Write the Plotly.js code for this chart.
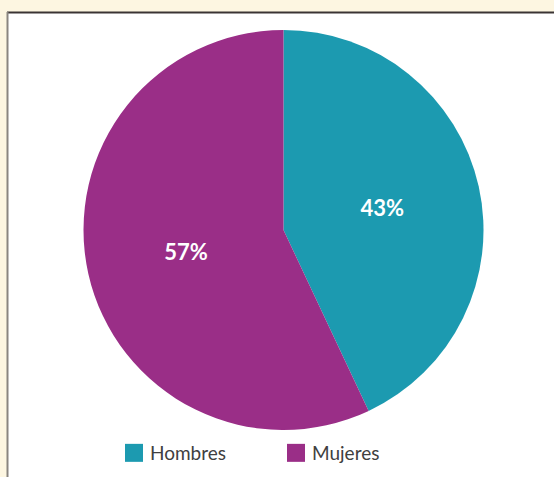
<!DOCTYPE html>
<html>
<head>
<meta charset="utf-8">
<script src="https://cdn.plot.ly/plotly-3.0.1.min.js"></script>
<style>html,body{margin:0;padding:0;background:#fdf6e1;}</style>
</head>
<body>
<div id="chart" style="width:554px;height:477px;"></div>
<script>
const categories = ["Hombres", "Mujeres"];
const values = [43, 57];
const colors = ["#1c9ab0", "#9a2e87"];

const W = 554, H = 477;
const px = v => v / W;
const py = v => 1 - v / H;

const trace = {
  type: "pie",
  labels: categories,
  values: values,
  sort: false,
  direction: "clockwise",
  rotation: 0,
  marker: {colors: colors, line: {color: "#ffffff", width: 0}},
  texttemplate: "%{percent:.0%}",
  textposition: "inside",
  insidetextorientation: "horizontal",
  textfont: {family: "Lato, sans-serif", size: 22, color: "#ffffff", weight: "bold"},
  hoverinfo: "label+percent",
  domain: {x: [px(83.5), px(483.5)], y: [py(430), py(30)]},
  automargin: false
};

const layout = {
  width: W, height: H,
  margin: {l: 0, r: 0, t: 0, b: 0},
  paper_bgcolor: "#fdf6e1",
  plot_bgcolor: "#fdf6e1",
  showlegend: true,
  legend: {
    orientation: "h",
    x: px(110), y: py(434),
    xanchor: "left", yanchor: "top",
    bgcolor: "rgba(0,0,0,0)",
    font: {family: "Lato, sans-serif", size: 19, color: "#404040"},
    entrywidth: 117,
    itemwidth: 30,
    traceorder: "normal"
  },
  shapes: [
    {type: "rect", xref: "paper", yref: "paper", x0: px(8), x1: 1, y0: 0, y1: py(13),
     fillcolor: "#ffffff", line: {width: 0}, layer: "below"},
    {type: "line", xref: "paper", yref: "paper", x0: px(7), x1: 1, y0: py(12.5), y1: py(12.5),
     line: {color: "#3b3434", width: 2}, layer: "below"},
    {type: "line", xref: "paper", yref: "paper", x0: px(7.5), x1: px(7.5), y0: 0, y1: py(12),
     line: {color: "#8a8580", width: 2}, layer: "below"}
  ]
};

Plotly.newPlot("chart", [trace], layout, {displayModeBar: false, staticPlot: true}).then(gd => {
  // enlarge legend swatches to match the reference's bigger squares
  gd.querySelectorAll(".legend .legendpoints path").forEach(p => {
    p.setAttribute("d", "M13,9H-5V-9H13Z");
  });
});
</script>
</body>
</html>
